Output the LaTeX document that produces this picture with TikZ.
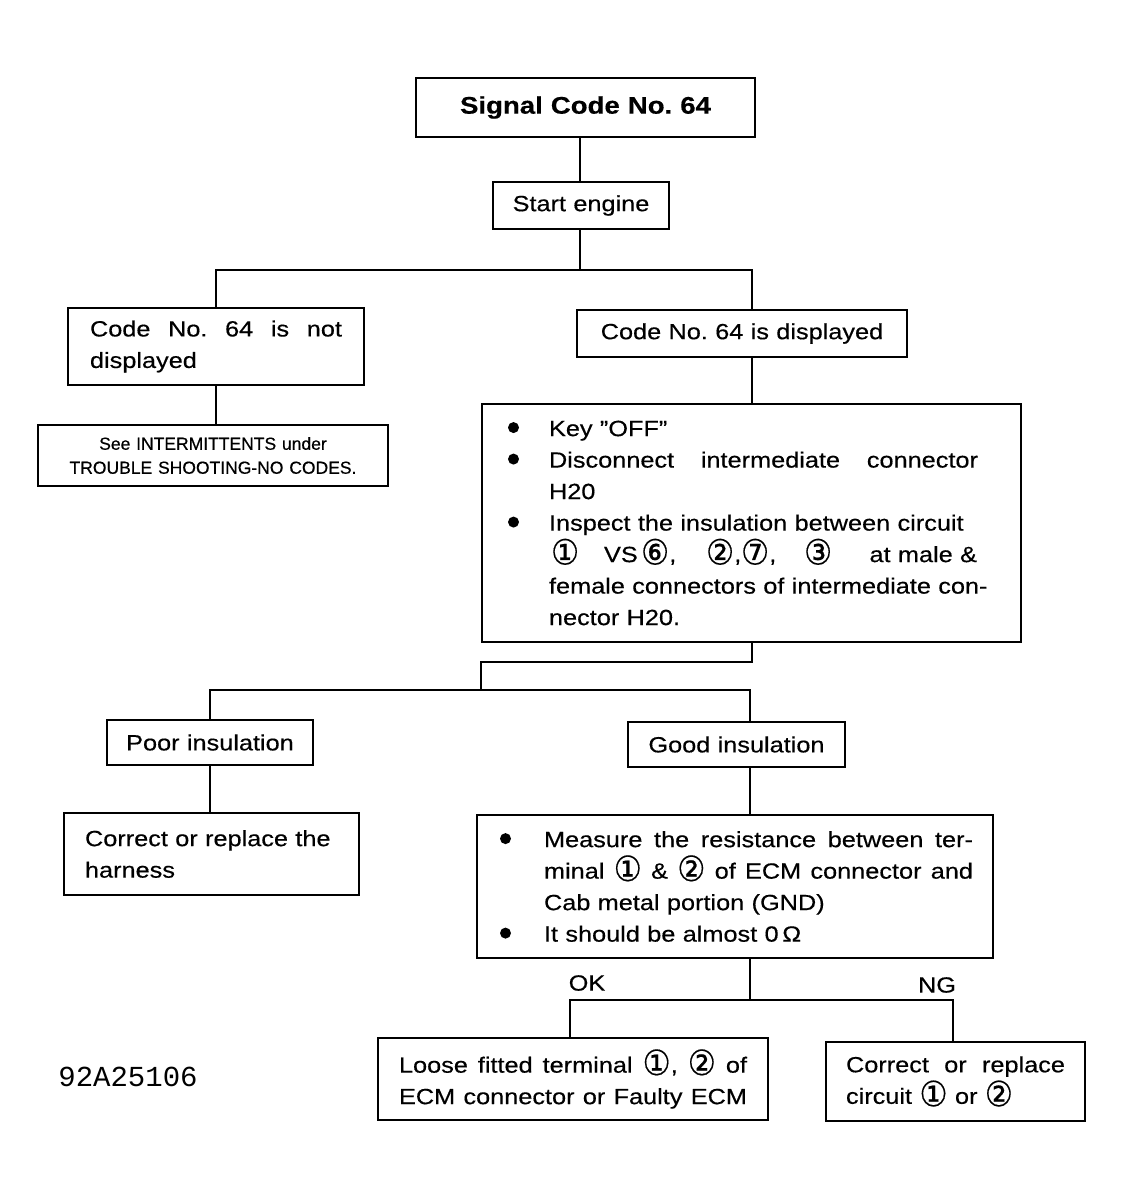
\documentclass[tikz,border=0pt]{standalone}
\usepackage{fontspec}
\setmainfont{Liberation Sans}[FakeStretch=1.15,FakeBold=0.4]
\newfontfamily\dv{DejaVu Sans}[FakeBold=0.4]
\newfontfamily\narrowf{Liberation Sans}[FakeBold=0.5]
\newfontfamily\mono{Liberation Mono}
\frenchspacing
\newcommand{\cd}[1]{\raisebox{-2.5pt}{\dv\fontsize{35}{24}\selectfont\scalebox{0.9}[1]{#1}}}
\newcommand{\bul}{\makebox[0pt][l]{\raisebox{3pt}{\tikz\fill (0,0) circle (5.5pt);}}}
\newcommand{\jline}[2]{\hbox to #1{\spaceskip=.28em plus 1fil\xspaceskip=\spaceskip\relax #2}}
\begin{document}
\begin{tikzpicture}[x=1pt,y=-1pt,
  box/.style={draw,line width=2pt,inner ysep=0pt,align=left,font=\fontsize{22}{31.5}\selectfont},
  conn/.style={line width=2pt},
  lbl/.style={font=\fontsize{22}{22}\selectfont,inner sep=0pt}]
\useasboundingbox (0,0) rectangle (1144,1198);

% boxes
\node[box,align=center,inner xsep=0pt,text width=339pt,minimum height=59pt,font=\fontsize{24}{28}\selectfont\bfseries] (title) at (585.5,107.5) {Signal Code No. 64};
\node[box,align=center,inner xsep=0pt,text width=176pt,minimum height=47pt] (start) at (581,205.5) {Start engine};
\node[box,inner xsep=22pt,text width=252pt,minimum height=77pt] (notd) at (216,346.5) {\jline{252pt}{Code No. 64 is not}\\displayed};
\node[box,align=center,inner xsep=0pt,text width=350pt,minimum height=61pt,font=\narrowf\fontsize{17.5}{24}\selectfont] (see) at (213,455.5) {See INTERMITTENTS under\\TROUBLE SHOOTING-NO CODES.};
\node[box,align=center,inner xsep=0pt,text width=330pt,minimum height=47pt] (disp) at (742,333.5) {Code No. 64 is displayed};
\node[box,inner xsep=22pt,text width=495pt,minimum height=238pt] (big) at (751.5,523) {%
\hspace*{4pt}\bul\hspace*{41pt}Key ''OFF''\\
\hspace*{4pt}\bul\hspace*{41pt}\jline{429pt}{Disconnect intermediate connector}\\
\hspace*{45pt}H20\\
\hspace*{4pt}\bul\hspace*{41pt}Inspect the insulation between circuit\\
\hspace*{47pt}\hbox to 426pt{\makebox[53pt][l]{\cd{①}}\makebox[37pt][l]{VS}\makebox[65pt][l]{\cd{⑥},}\makebox[35pt][l]{\cd{②},}\makebox[63pt][l]{\cd{⑦},}\makebox[55pt][l]{\cd{③}}\hfill at male \&}\\
\hspace*{45pt}female connectors of intermediate con-\\
\hspace*{45pt}nector H20.};
\node[box,align=center,inner xsep=0pt,text width=206pt,minimum height=45pt] (poor) at (210,742.5) {Poor insulation};
\node[box,inner xsep=21pt,text width=253pt,minimum height=82pt] (harness) at (211.5,854) {Correct or replace the\\harness};
\node[box,align=center,inner xsep=0pt,text width=217pt,minimum height=45pt] (good) at (736.5,744.5) {Good insulation};
\node[box,inner xsep=23pt,text width=470pt,minimum height=143pt] (meas) at (735,886.5) {%
\bul\hspace*{44pt}\jline{429pt}{Measure the resistance between ter-}\\
\hspace*{44pt}\jline{429pt}{minal \cd{①} \& \cd{②} of ECM connector and}\\
\hspace*{44pt}Cab metal portion (GND)\\
\bul\hspace*{44pt}It should be almost 0\,Ω};
\node[box,inner xsep=21pt,text width=348pt,minimum height=82pt] (loose) at (573,1079) {\jline{348pt}{Loose fitted terminal \cd{①}, \cd{②} of}\\\jline{348pt}{ECM connector or Faulty ECM}};
\node[box,inner xsep=20pt,text width=219pt,minimum height=79pt] (ng) at (955.5,1081.5) {\jline{219pt}{Correct or replace}\\circuit \cd{①} or \cd{②}};

% labels
\node[lbl] (ok) at (587,983) {OK};
\node[lbl] (nglbl) at (937,985) {NG};
\node[inner sep=0pt,font=\mono\fontsize{29}{29}\selectfont] (code) at (128,1077) {92A25106};

% junction coordinates
\coordinate (j1) at (580,270);
\coordinate (c2) at (752,270);
\coordinate (c3) at (752,662);
\coordinate (c4) at (481,662);
\coordinate (c5) at (481,690);
\coordinate (c7) at (750,690);
\coordinate (c8) at (750,1000);
\coordinate (c9) at (570,1000);
\coordinate (c10) at (953,1000);

% connectors
\draw[conn] (j1 |- title.south) -- (j1 |- start.north);
\draw[conn] (j1 |- start.south) -- (j1);
\draw[conn] (notd.north) |- (c2) -- (c2 |- disp.north);
\draw[conn] (notd.south) -- (notd.south |- see.north);
\draw[conn] (c2 |- disp.south) -- (c2 |- big.north);
\draw[conn] (c3 |- big.south) -- (c3) -- (c4) -- (c5);
\draw[conn] (poor.north) |- (c7) -- (c7 |- good.north);
\draw[conn] (poor.south) -- (poor.south |- harness.north);
\draw[conn] (c7 |- good.south) -- (c7 |- meas.north);
\draw[conn] (c8 |- meas.south) -- (c8);
\draw[conn] (c9 |- loose.north) -- (c9) -- (c10) -- (c10 |- ng.north);
\end{tikzpicture}
\end{document}
